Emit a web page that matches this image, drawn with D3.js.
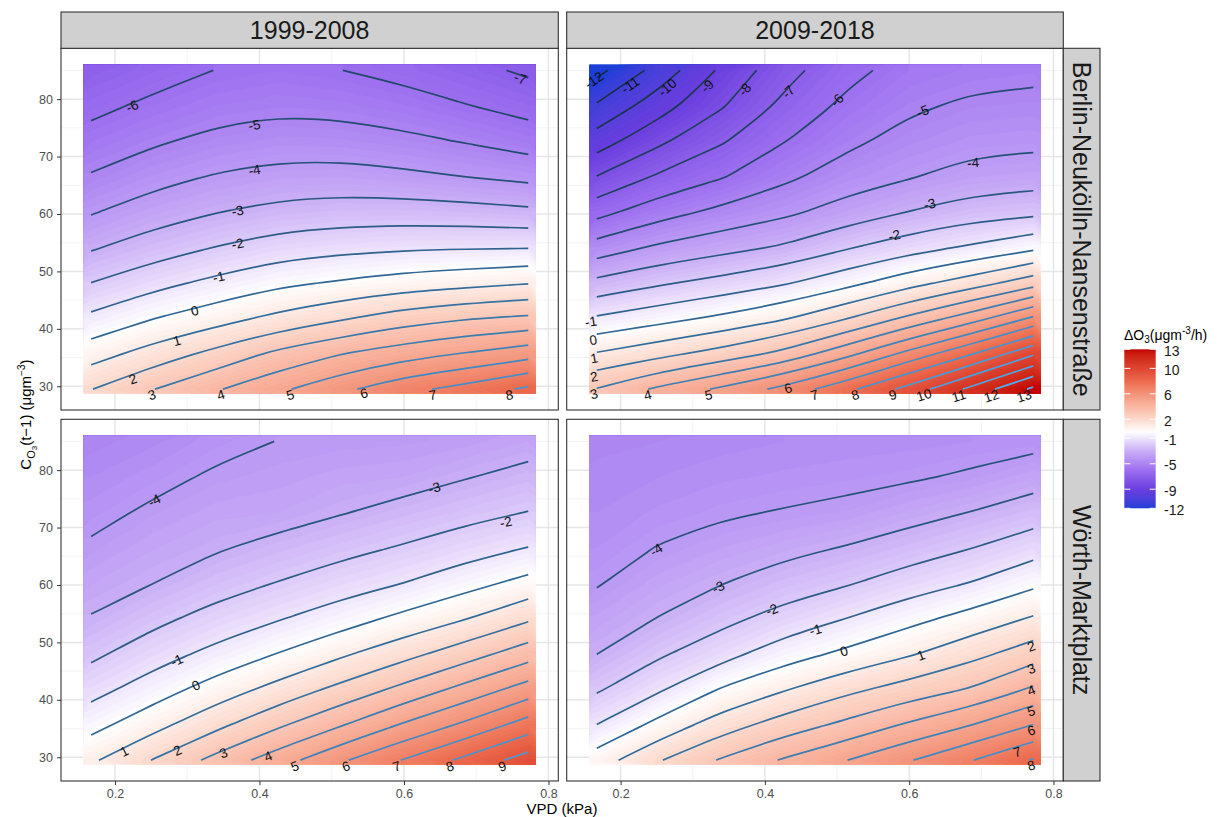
<!DOCTYPE html>
<html>
<head>
<meta charset="utf-8">
<script src="https://cdn.jsdelivr.net/npm/d3@7"></script>
<style>
  body { margin: 0; background: #fff; }
  svg { display: block; font-family: "Liberation Sans", Arial, sans-serif; }
</style>
</head>
<body>
<svg id="chart" width="1225" height="817"></svg>
<script>
// ---- data -------------------------------------------------------------
// grid of the fitted surface: VPD (kPa) columns x C_O3(t-1) rows
const vpdNodes = [0.167, 0.2534, 0.3399, 0.4263, 0.5127, 0.5991, 0.6856, 0.772];
const co3Nodes = [29.5, 35.67, 41.83, 48, 54.17, 60.33, 66.5, 72.67, 78.83, 85];

const periods = ['1999-2008', '2009-2018'];
const sites = ['Berlin-Neukölln-Nansenstraße', 'Wörth-Marktplatz'];

// ΔO3 (µg m-3 / h), one inner array per VPD node, C_O3 ascending
const berlin9908 = [
  [1.97, 0.56, -0.78, -1.99, -3.11, -4.08, -4.92, -5.61, -6.28, -6.9],
  [2.98, 1.43, -0.02, -1.32, -2.49, -3.47, -4.35, -5.13, -5.78, -6.43],
  [3.9, 2.29, 0.6, -0.75, -1.97, -3.03, -3.92, -4.74, -5.4, -5.98],
  [4.8, 3.25, 1.27, -0.21, -1.51, -2.69, -3.66, -4.5, -5.22, -5.8],
  [5.75, 3.97, 1.88, 0.11, -1.29, -2.53, -3.62, -4.54, -5.31, -5.99],
  [6.7, 4.57, 2.52, 0.45, -1.14, -2.52, -3.78, -4.76, -5.57, -6.3],
  [7.35, 5.07, 2.93, 0.69, -1.08, -2.61, -4.01, -5.06, -5.96, -6.7],
  [8.18, 5.58, 3.18, 0.94, -1.05, -2.78, -4.26, -5.44, -6.37, -7.16]
];
const berlin0918 = [
  [3.05, 1.08, -0.87, -2.73, -4.57, -6.34, -7.97, -9.5, -10.88, -12.3],
  [4.2, 1.71, -0.35, -2.14, -3.83, -5.4, -6.85, -8.2, -9.44, -10.6],
  [5.18, 2.39, 0.2, -1.65, -3.35, -4.75, -6.08, -7.11, -8.1, -8.82],
  [6.3, 3.27, 0.89, -1.12, -2.88, -4.23, -5.23, -6.04, -6.77, -7.36],
  [7.71, 4.68, 1.95, -0.32, -2.1, -3.57, -4.53, -5.22, -5.78, -6.3],
  [9.35, 6.32, 3.22, 0.63, -1.42, -2.98, -4.08, -4.66, -5.17, -5.6],
  [11.25, 7.91, 4.54, 1.5, -0.85, -2.48, -3.63, -4.32, -4.83, -5.35],
  [13.2, 9.86, 6.17, 2.58, -0.23, -2.26, -3.49, -4.24, -4.74, -5.24]
];
const woerth9908 = [
  [0.85, -0.35, -1.36, -2.21, -2.94, -3.42, -3.87, -4.28, -4.6, -4.9],
  [2.05, 0.67, -0.485, -1.44, -2.26, -3.004, -3.42, -3.84, -4.27, -4.65],
  [3.3, 1.74, 0.45, -0.71, -1.63, -2.43, -3.1, -3.49, -3.87, -4.27],
  [4.54, 2.84, 1.34, 0.04, -1.07, -1.96, -2.7, -3.4, -3.7, -3.98],
  [5.85, 3.92, 2.28, 0.84, -0.46, -1.47, -2.31, -3.06, -3.5, -3.9],
  [7.05, 5.1, 3.27, 1.66, 0.25, -0.998, -1.92, -2.69, -3.4, -3.85],
  [8.25, 6.2, 4.33, 2.56, 0.96, -0.36, -1.46, -2.32, -3.05, -3.7],
  [9.47, 7.44, 5.45, 3.55, 1.84, 0.31, -0.98, -1.98, -2.7, -3.4]
];
const woerth0918 = [
  [0.5, -0.99, -2.125, -3.01, -3.55, -4.07, -4.4, -4.6, -4.75, -4.85],
  [1.93, 0.31, -1.12, -2.14, -2.96, -3.46, -3.96, -4.35, -4.6, -4.8],
  [3.1, 1.52, 0.08, -1.37, -2.28, -3.03, -3.6, -4.12, -4.45, -4.7],
  [4.1, 2.45, 0.92, -0.45, -1.63, -2.52, -3.28, -3.95, -4.35, -4.6],
  [4.98, 3.23, 1.75, 0.21, -0.996, -2.1, -2.95, -3.78, -4.25, -4.55],
  [5.92, 4.14, 2.42, 0.88, -0.31, -1.5, -2.52, -3.37, -4.12, -4.5],
  [6.95, 4.97, 3.07, 1.68, 0.36, -0.97, -2.03, -2.98, -3.87, -4.4],
  [8.08, 6.003, 4.15, 2.54, 1.1, -0.22, -1.43, -2.5, -3.44, -4.3]
];

// contour labels: [level, VPD, C_O3]
const labelsB9908 = [[-7, 0.761, 83.6], [-6, 0.2238, 78.78], [-5, 0.3931, 75.48], [-4, 0.3931, 67.64],
  [-3, 0.3698, 60.57], [-2, 0.3698, 54.83], [-1, 0.3436, 49.08], [0, 0.3104, 43.17], [1, 0.2856, 37.95],
  [2, 0.2248, 31.28], [3, 0.251, 28.49], [4, 0.3465, 28.49], [5, 0.4426, 28.49], [6, 0.5446, 28.78],
  [7, 0.6396, 28.49], [8, 0.746, 28.49]];
const labelsB0918 = [[-12, 0.1632, 83.31], [-11, 0.2133, 82.44], [-10, 0.2646, 82.03], [-9, 0.32, 82.26],
  [-8, 0.372, 81.68], [-7, 0.4323, 81.28], [-6, 0.4999, 79.83], [-5, 0.6187, 77.91], [-4, 0.6887, 68.92],
  [-3, 0.6284, 61.73], [-2, 0.5795, 56.28], [-1, 0.159, 41.25], [0, 0.162, 38.06], [1, 0.1632, 34.87],
  [2, 0.1632, 31.68], [3, 0.1632, 28.67], [4, 0.2374, 28.49], [5, 0.3219, 28.49], [6, 0.4323, 29.65],
  [7, 0.4685, 28.49], [8, 0.5252, 28.49], [9, 0.5771, 28.49], [10, 0.6205, 28.49], [11, 0.6688, 28.32],
  [12, 0.714, 28.32], [13, 0.7593, 28.32]];
const labelsW9908 = [[-4, 0.2545, 74.72], [-3, 0.6421, 76.93], [-2, 0.7411, 70.95], [-1, 0.2856, 46.88],
  [0, 0.3119, 42.53], [1, 0.2129, 31.04], [2, 0.2866, 31.22], [3, 0.35, 30.75], [4, 0.4119, 30.17],
  [5, 0.449, 28.43], [6, 0.5198, 28.43], [7, 0.5901, 28.43], [8, 0.6634, 28.43], [9, 0.7361, 28.43]];
const labelsW0918 = [[-4, 0.2495, 66.14], [-3, 0.3354, 59.64], [-2, 0.4097, 55.7], [-1, 0.4701, 52.22],
  [0, 0.5094, 48.5], [1, 0.6163, 47.75], [2, 0.7692, 49.32], [3, 0.7692, 45.43], [4, 0.7692, 41.66],
  [5, 0.7692, 38.06], [6, 0.7692, 34.7], [7, 0.7498, 30.93], [8, 0.7692, 28.61]];

const xTicks = [0.2, 0.4, 0.6, 0.8];
const xMinor = [0.3, 0.5, 0.7];
const yTicks = [30, 40, 50, 60, 70, 80];
const yMinor = [35, 45, 55, 65, 75, 85];
const legendBreaks = [13, 10, 6, 2, -1, -5, -9, -12];
const levels = d3.range(-12, 14);

// ---- layout ----------------------------------------------------------
const W = 1225, H = 817;
const colBox = [[61, 558.3], [566.7, 1063.3]];
const rowBox = [[48.3, 410], [419.3, 781]];
const xLim = [0.1253, 0.8136], yLim = [25.87, 88.85];
const rasterX = [0.1566, 0.7823], rasterY = [28.73, 85.98];

const panels = [
  { col: 0, row: 0, values: berlin9908, labels: labelsB9908 },
  { col: 1, row: 0, values: berlin0918, labels: labelsB0918 },
  { col: 0, row: 1, values: woerth9908, labels: labelsW9908 },
  { col: 1, row: 1, values: woerth0918, labels: labelsW0918 }
];

// blue - violet - white - red fill scale
const fillColor = d3.scaleLinear()
  .domain([-12, -9, -6, -3, -1, 0, 2, 6, 8, 10, 13])
  .range(['#1b3fd6', '#6a3ede', '#9c6ff0', '#c9aef6', '#eee5fc', '#ffffff', '#fcd9cc',
          '#f3937a', '#ec6a4e', '#de4432', '#c40202'])
  .interpolate(d3.interpolateLab).clamp(true);
const lineColor = d3.scaleLinear().domain([-12, 13]).range(['#132B43', '#56B1F7'])
  .interpolate(d3.interpolateLab);

const nx = vpdNodes.length, ny = co3Nodes.length;
const gx = d3.scaleLinear().domain([0.5, nx - 0.5]).range([vpdNodes[0], vpdNodes[nx - 1]]);
const gy = d3.scaleLinear().domain([0.5, ny - 0.5]).range([co3Nodes[0], co3Nodes[ny - 1]]);

function flatten(cols) {
  const v = [];
  for (let j = 0; j < ny; j++) for (let i = 0; i < nx; i++) v.push(cols[i][j]);
  return v;
}
function onEdge(p) { return p[0] <= 0 || p[0] >= nx || p[1] <= 0 || p[1] >= ny; }

// cut a closed contour ring into the open runs that lie inside the grid
function splitRing(ring) {
  const pts = ring.slice(0, -1);
  const k = pts.findIndex(onEdge);
  if (k < 0) return [ring];
  const rot = pts.slice(k).concat(pts.slice(0, k));
  const runs = [];
  let cur = [];
  rot.forEach(p => {
    if (onEdge(p)) { if (cur.length > 1) runs.push(cur); cur = []; }
    else cur.push(p);
  });
  if (cur.length > 1) runs.push(cur);
  return runs;
}

function nearestAngle(runs, px, py) {
  let best = Infinity, ang = 0;
  runs.forEach(r => {
    for (let i = 0; i < r.length - 1; i++) {
      const [ax, ay] = r[i], [bx, by] = r[i + 1];
      const dx = bx - ax, dy = by - ay, L = dx * dx + dy * dy || 1;
      let t = ((px - ax) * dx + (py - ay) * dy) / L;
      t = Math.max(0, Math.min(1, t));
      const d = (ax + t * dx - px) ** 2 + (ay + t * dy - py) ** 2;
      if (d < best) { best = d; ang = Math.atan2(dy, dx) * 180 / Math.PI; }
    }
  });
  if (ang > 90) ang -= 180;
  if (ang < -90) ang += 180;
  return ang;
}

const svg = d3.select('#chart');
svg.append('rect').attr('width', W).attr('height', H).attr('fill', '#fff');
const defs = svg.append('defs');

const bandThresholds = d3.range(-13, 14.01, 0.2);
const line = d3.line().curve(d3.curveBasis);

panels.forEach((p, pi) => {
  const [x0, x1] = colBox[p.col], [y0, y1] = rowBox[p.row];
  const x = d3.scaleLinear().domain(xLim).range([x0, x1]);
  const y = d3.scaleLinear().domain(yLim).range([y1, y0]);
  const g = svg.append('g');

  // grid
  g.selectAll('.minx').data(xMinor).join('line')
    .attr('x1', d => x(d)).attr('x2', d => x(d)).attr('y1', y0).attr('y2', y1)
    .attr('stroke', '#f0f0f0').attr('stroke-width', 0.8);
  g.selectAll('.miny').data(yMinor).join('line')
    .attr('y1', d => y(d)).attr('y2', d => y(d)).attr('x1', x0).attr('x2', x1)
    .attr('stroke', '#f0f0f0').attr('stroke-width', 0.8);
  g.selectAll('.majx').data(xTicks).join('line')
    .attr('x1', d => x(d)).attr('x2', d => x(d)).attr('y1', y0).attr('y2', y1)
    .attr('stroke', '#e6e6e6').attr('stroke-width', 1.5);
  g.selectAll('.majy').data(yTicks).join('line')
    .attr('y1', d => y(d)).attr('y2', d => y(d)).attr('x1', x0).attr('x2', x1)
    .attr('stroke', '#e6e6e6').attr('stroke-width', 1.5);

  const values = flatten(p.values);
  const toPx = q => [x(gx(q[0])), y(gy(q[1]))];

  // raster surface as fine filled bands
  const clipId = 'clip' + pi;
  defs.append('clipPath').attr('id', clipId).append('rect')
    .attr('x', x(rasterX[0])).attr('y', y(rasterY[1]))
    .attr('width', x(rasterX[1]) - x(rasterX[0]))
    .attr('height', y(rasterY[0]) - y(rasterY[1]));
  const bands = d3.contours().size([nx, ny]).thresholds(bandThresholds)(values);
  const raster = g.append('g').attr('clip-path', `url(#${clipId})`);
  bands.filter(b => b.coordinates.length).forEach(b => {
    const d = b.coordinates.map(poly => poly.map(ring =>
      'M' + ring.map(q => toPx(q).map(v => v.toFixed(2)).join(',')).join('L') + 'Z').join('')).join('');
    raster.append('path').attr('d', d).attr('fill', fillColor(b.value + 0.1))
      .attr('fill-rule', 'evenodd').attr('stroke', fillColor(b.value + 0.1)).attr('stroke-width', 0.3);
  });

  // contour lines
  const iso = d3.contours().size([nx, ny]).thresholds(levels)(values);
  const runsByLevel = {};
  iso.forEach(c => {
    const runs = [];
    c.coordinates.forEach(poly => poly.forEach(ring => splitRing(ring).forEach(r => runs.push(r.map(toPx)))));
    runsByLevel[c.value] = runs;
    runs.forEach(r => {
      g.append('path').attr('d', line(r)).attr('fill', 'none')
        .attr('stroke', lineColor(c.value)).attr('stroke-width', 1.7);
    });
  });

  // contour labels
  p.labels.forEach(([lev, v, c]) => {
    const px = x(v), py = y(c);
    const ang = nearestAngle(runsByLevel[lev] || [], px, py);
    g.append('text').attr('transform', `translate(${px},${py}) rotate(${ang})`)
      .attr('text-anchor', 'middle').attr('dy', '0.35em')
      .attr('font-size', 13.5).attr('fill', '#111').text(lev);
  });

  // border
  g.append('rect').attr('x', x0).attr('y', y0).attr('width', x1 - x0).attr('height', y1 - y0)
    .attr('fill', 'none').attr('stroke', '#333').attr('stroke-width', 1.1);

  // axes
  if (p.row === 1) {
    const ax = g.append('g').attr('transform', `translate(0,${y1})`)
      .call(d3.axisBottom(x).tickValues(xTicks).tickFormat(d3.format('.1f')).tickSize(4).tickPadding(4));
    ax.select('.domain').remove();
    ax.selectAll('line').attr('stroke', '#333');
    ax.selectAll('text').attr('fill', '#4d4d4d').attr('font-size', 12.5)
      .attr('font-family', '"Liberation Sans", Arial, sans-serif');
  }
  if (p.col === 0) {
    const ay = g.append('g').attr('transform', `translate(${x0},0)`)
      .call(d3.axisLeft(y).tickValues(yTicks).tickSize(4).tickPadding(4));
    ay.select('.domain').remove();
    ay.selectAll('line').attr('stroke', '#333');
    ay.selectAll('text').attr('fill', '#4d4d4d').attr('font-size', 12.5)
      .attr('font-family', '"Liberation Sans", Arial, sans-serif');
  }
});

// strips
periods.forEach((t, i) => {
  const [x0, x1] = colBox[i];
  svg.append('rect').attr('x', x0).attr('y', 12).attr('width', x1 - x0).attr('height', 36.3)
    .attr('fill', '#d0d0d0').attr('stroke', '#333').attr('stroke-width', 1.1);
  svg.append('text').attr('x', (x0 + x1) / 2).attr('y', 30.2).attr('dy', '0.36em')
    .attr('text-anchor', 'middle').attr('font-size', 25).attr('fill', '#1a1a1a').text(t);
});
sites.forEach((t, i) => {
  const [y0, y1] = rowBox[i];
  svg.append('rect').attr('x', 1063.3).attr('y', y0).attr('width', 36.7).attr('height', y1 - y0)
    .attr('fill', '#d0d0d0').attr('stroke', '#333').attr('stroke-width', 1.1);
  svg.append('text').attr('transform', `translate(1081.7,${(y0 + y1) / 2}) rotate(90)`)
    .attr('dy', '0.36em').attr('text-anchor', 'middle').attr('font-size', 25)
    .attr('fill', '#1a1a1a').text(t);
});

// axis titles
svg.append('text').attr('x', 562).attr('y', 814).attr('text-anchor', 'middle')
  .attr('font-size', 15).attr('fill', '#000').text('VPD (kPa)');
const yt = svg.append('text').attr('transform', 'translate(31,414.6) rotate(-90)')
  .attr('text-anchor', 'middle').attr('font-size', 15).attr('fill', '#000');
yt.append('tspan').text('C');
yt.append('tspan').attr('font-size', 11).attr('dy', 4).text('O');
yt.append('tspan').attr('font-size', 8).attr('dy', 2).text('3');
yt.append('tspan').attr('dy', -6).text('(t\u22121) (\u03BCgm');
yt.append('tspan').attr('font-size', 10).attr('dy', -6).text('\u22123');
yt.append('tspan').attr('dy', 6).text(')');

// legend
const lg = svg.append('g');
const lt = lg.append('text').attr('x', 1124).attr('y', 340).attr('font-size', 14).attr('fill', '#000');
lt.append('tspan').text('\u0394O');
lt.append('tspan').attr('font-size', 10).attr('dy', 3).text('3');
lt.append('tspan').attr('dy', -3).text('(\u03BCgm');
lt.append('tspan').attr('font-size', 10).attr('dy', -6).text('-3');
lt.append('tspan').attr('dy', 6).text('/h)');

const barX = 1124.3, barW = 31.4, barTop = 349.3, barH = 159;
const ly = d3.scaleLinear().domain([13, -12]).range([barTop, barTop + barH]);
const grad = defs.append('linearGradient').attr('id', 'lgGrad')
  .attr('x1', 0).attr('y1', 0).attr('x2', 0).attr('y2', 1);
d3.range(13, -12.01, -0.5).forEach(v => {
  grad.append('stop').attr('offset', (13 - v) / 25).attr('stop-color', fillColor(v));
});
lg.append('rect').attr('x', barX).attr('y', barTop).attr('width', barW).attr('height', barH)
  .attr('fill', 'url(#lgGrad)');
legendBreaks.forEach(b => {
  const yy = ly(b);
  lg.append('line').attr('x1', barX).attr('x2', barX + 6).attr('y1', yy).attr('y2', yy)
    .attr('stroke', '#fff').attr('stroke-width', 1);
  lg.append('line').attr('x1', barX + barW - 6).attr('x2', barX + barW).attr('y1', yy).attr('y2', yy)
    .attr('stroke', '#fff').attr('stroke-width', 1);
  lg.append('text').attr('x', 1164).attr('y', yy + 1.5).attr('dy', '0.36em')
    .attr('font-size', 14).attr('fill', '#1a1a1a').text(b);
});
</script>
</body>
</html>
